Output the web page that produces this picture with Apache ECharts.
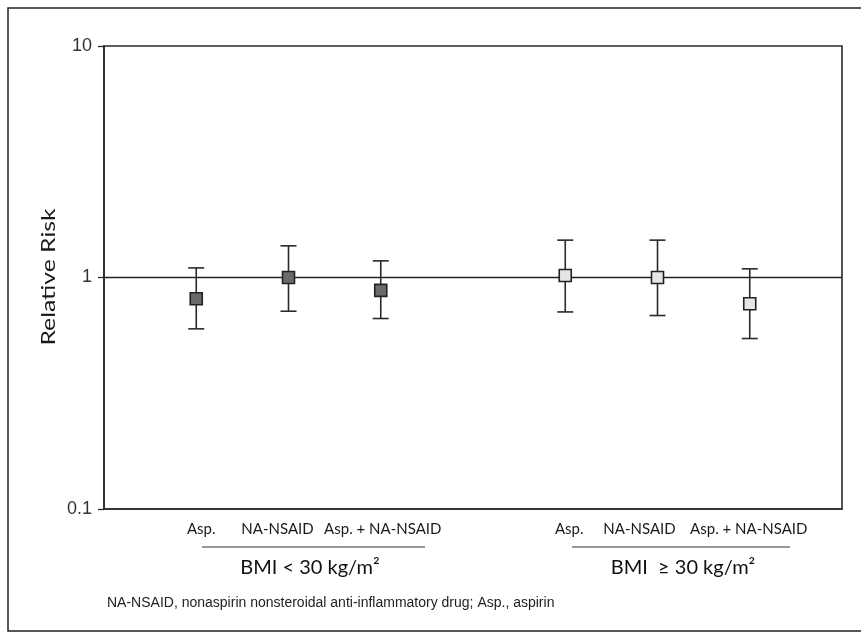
<!DOCTYPE html>
<html><head><meta charset="utf-8">
<script src="https://cdn.jsdelivr.net/npm/echarts@6/dist/echarts.min.js"></script>
<style>html,body{margin:0;padding:0;background:#fff}#c{width:861px;height:639px}</style>
</head><body><div id="c"></div>
<script>
var categories = ['Asp.', 'NA-NSAID', 'Asp. + NA-NSAID', 'Asp.', 'NA-NSAID', 'Asp. + NA-NSAID'];
var positions = [1, 2, 3, 5, 6, 7];
var groups = ['BMI < 30 kg/m²', 'BMI  ≥ 30 kg/m²'];
var rr = [0.81, 1.00, 0.88, 1.02, 1.00, 0.77];
var lower = [0.60, 0.715, 0.665, 0.71, 0.685, 0.545];
var upper = [1.10, 1.37, 1.18, 1.45, 1.45, 1.09];
var yTicks = [0.1, 1, 10];
var yTitle = 'Relative Risk';
var footnote = 'NA-NSAID, nonaspirin nonsteroidal anti-inflammatory drug; Asp., aspirin';

// horizontal nudge of each category label (px) relative to its mark
var labelShift = [5, -11, 2, 4, -18, -1];

var labelMap = {};
var rich = {};
positions.forEach(function (p, i) {
  labelMap[p] = i;
  var d = labelShift[i];
  rich['s' + i] = {
    fontFamily: 'Lato', fontSize: 15, color: '#1a1a1a',
    padding: d >= 0 ? [0, 0, 0, 2 * d] : [0, -2 * d, 0, 0]
  };
});

var pts1 = [], pts2 = [], errs = [];
positions.forEach(function (p, i) {
  (i < 3 ? pts1 : pts2).push([p, rr[i]]);
  errs.push([p, lower[i], upper[i]]);
});

var chart = echarts.init(document.getElementById('c'));
chart.setOption({
  animation: false,
  grid: { left: 104, right: 19, top: 46, bottom: 130, show: true, borderColor: '#2a2a2a', borderWidth: 1.6, backgroundColor: 'transparent' },
  xAxis: {
    type: 'value', min: 0, max: 8, interval: 1,
    axisLine: { show: true, lineStyle: { color: '#2a2a2a', width: 1.6 } },
    axisTick: { show: false },
    splitLine: { show: false },
    axisLabel: {
      margin: 13, color: '#1a1a1a', fontFamily: 'Lato', fontSize: 15, rich: rich,
      formatter: function (v) {
        var i = labelMap[v];
        return i === undefined ? '' : '{s' + i + '|' + categories[i] + '}';
      }
    }
  },
  yAxis: {
    type: 'log', logBase: 10, min: 0.1, max: 10,
    axisLine: { show: true, lineStyle: { color: '#2a2a2a', width: 1.6 } },
    axisTick: { show: true, length: 6, inside: false, lineStyle: { color: '#2a2a2a', width: 1.3 } },
    splitLine: { show: false },
    minorTick: { show: false },
    axisLabel: { margin: 12, color: '#333', fontFamily: 'Liberation Sans', fontSize: 18,
      formatter: function (v) { var r = +(+v).toPrecision(3); return yTicks.indexOf(r) >= 0 ? String(r) : ''; } }
  },
  series: [
    {
      type: 'line', data: [[0, 1], [8, 1]], symbol: 'none', silent: true,
      lineStyle: { color: '#222', width: 1.6 }, z: 1
    },
    {
      type: 'custom', data: errs, z: 2,
      renderItem: function (params, api) {
        var x = api.value(0);
        var lo = api.coord([x, api.value(1)]);
        var hi = api.coord([x, api.value(2)]);
        var w = 8;
        var st = { stroke: '#2a2a2a', lineWidth: 1.6 };
        return {
          type: 'group', children: [
            { type: 'line', shape: { x1: lo[0], y1: lo[1], x2: hi[0], y2: hi[1] }, style: st },
            { type: 'line', shape: { x1: lo[0] - w, y1: lo[1], x2: lo[0] + w, y2: lo[1] }, style: st },
            { type: 'line', shape: { x1: hi[0] - w, y1: hi[1], x2: hi[0] + w, y2: hi[1] }, style: st }
          ]
        };
      }
    },
    {
      type: 'scatter', data: pts1, symbol: 'rect', symbolSize: 12, z: 3,
      itemStyle: { color: '#6b6b6b', borderColor: '#222', borderWidth: 1.6, opacity: 1 }
    },
    {
      type: 'scatter', data: pts2, symbol: 'rect', symbolSize: 12, z: 3,
      itemStyle: { color: '#e6e6e6', borderColor: '#222', borderWidth: 1.6, opacity: 1 }
    }
  ],
  graphic: [
    { type: 'rect', shape: { x: 8, y: 8, width: 870, height: 623 }, style: { fill: 'none', stroke: '#222', lineWidth: 1.5 }, silent: true },
    { type: 'text', x: 49, y: 277, rotation: Math.PI / 2, scaleX: 1.3, style: { text: yTitle, font: '19px Lato', fill: '#1a1a1a', textAlign: 'center', textVerticalAlign: 'middle' } },
    { type: 'line', shape: { x1: 202, y1: 547, x2: 425, y2: 547 }, style: { stroke: '#333', lineWidth: 1 } },
    { type: 'line', shape: { x1: 572, y1: 547, x2: 790, y2: 547 }, style: { stroke: '#333', lineWidth: 1 } },
    { type: 'text', x: 310, y: 568, style: { text: groups[0], font: '20px Lato', fill: '#111', textAlign: 'center', textVerticalAlign: 'middle' } },
    { type: 'text', x: 683, y: 568, style: { text: groups[1], font: '20px Lato', fill: '#111', textAlign: 'center', textVerticalAlign: 'middle' } },
    { type: 'text', x: 107, y: 603, style: { text: footnote, font: '14px "Liberation Sans"', fill: '#222', textAlign: 'left', textVerticalAlign: 'middle' } }
  ]
});
</script></body></html>
